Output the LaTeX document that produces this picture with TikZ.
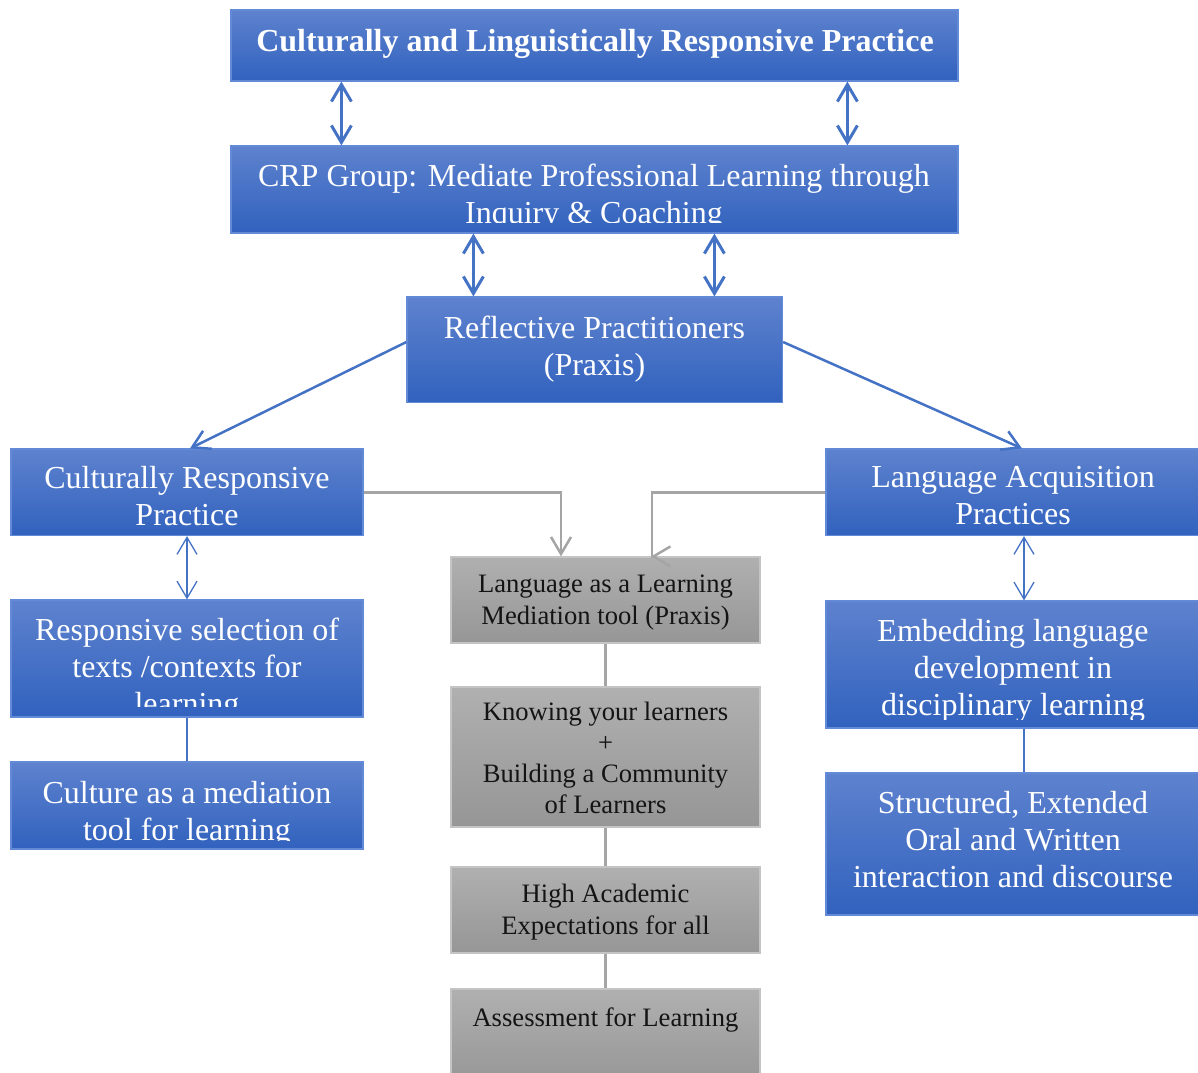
\documentclass[tikz,border=0pt]{standalone}
\usepackage{fontspec}
\setmainfont{Liberation Serif}
\usetikzlibrary{arrows.meta,fit}

\definecolor{blueTop}{RGB}{94,130,206}
\definecolor{blueBot}{RGB}{49,98,190}
\definecolor{blueEdge}{RGB}{98,138,214}
\definecolor{blueLine}{RGB}{68,114,196}
\definecolor{greyTop}{RGB}{176,176,176}
\definecolor{greyBot}{RGB}{150,150,150}
\definecolor{greyEdge}{RGB}{196,196,196}
\definecolor{greyLine}{RGB}{165,165,165}
\definecolor{ink}{RGB}{20,20,20}

\begin{document}
\begin{tikzpicture}[x=1pt,y=-1pt,
  >={Straight Barb[length=17pt,width=20pt]},
  bluebox/.style={rectangle, draw=blueEdge, line width=1.2pt, top color=blueTop, bottom color=blueBot, inner sep=0pt},
  greybox/.style={rectangle, draw=greyEdge, line width=1.2pt, top color=greyTop, bottom color=greyBot, inner sep=0pt},
  bluetext/.style={text=white, align=center, inner sep=0pt, anchor=north, font=\fontsize{32}{37}\selectfont},
  greytext/.style={text=ink, align=center, inner sep=0pt, anchor=north, font=\fontsize{26.6}{32}\selectfont},
  bigarrow/.style={draw=blueLine, line width=3pt, <->},
  diagarrow/.style={draw=blueLine, line width=2.5pt, ->},
  thinarrow/.style={draw=blueLine, line width=1.3pt, <->},
  blueconn/.style={draw=blueLine, line width=2.5pt},
  greyconn/.style={draw=greyLine, line width=2.5pt},
  greyarrow/.style={draw=greyLine, line width=2.5pt, ->},
]
\useasboundingbox (0,0) rectangle (1198,1072);

% ---- boxes ----
\node[bluebox, fit={(231,10) (958,81)}] (top) {};
\node[bluebox, fit={(231,146) (958,233)}] (crp) {};
\node[bluebox, fit={(407,297) (782.5,402.5)}] (refl) {};
\node[bluebox, fit={(11,449) (363,535.5)}] (crpL) {};
\node[bluebox, fit={(826,449) (1200,535.5)}] (lap) {};
\node[bluebox, fit={(11,600) (363,717)}] (rsel) {};
\node[bluebox, fit={(11,762) (363,849)}] (cult) {};
\node[bluebox, fit={(826,601) (1200,728)}] (emb) {};
\node[bluebox, fit={(826,773) (1200,915)}] (struct) {};
\node[greybox, fit={(451,557) (760,643)}] (g1) {};
\node[greybox, fit={(451,687) (760,827)}] (g2) {};
\node[greybox, fit={(451,867) (760,953)}] (g3) {};
\node[greybox, fit={(451,989) (760,1085)}] (g4) {};

% ---- texts ----
\node[bluetext, font=\fontsize{32}{37}\selectfont\bfseries] (toptext) at (595,29.4)
  {Culturally and Linguistically Responsive Practice};
\begin{scope}
  \clip (231,146) rectangle (958,222);
  \node[bluetext] (crptext) at (594,163.4)
    {CRP Group: Mediate Professional Learning through\\Inquiry \& Coaching};
\end{scope}
\node[bluetext] (refltext) at (594.5,316.2) {Reflective Practitioners\\(Praxis)};
\node[bluetext] (crpLtext) at (187,466.3) {Culturally Responsive\\Practice};
\node[bluetext] (laptext) at (1013,466.3) {Language Acquisition\\Practices};
\begin{scope}
  \clip (11,600) rectangle (363,706);
  \node[bluetext] (rseltext) at (187,617.6)
    {Responsive selection of\\texts /contexts for\\learning};
\end{scope}
\begin{scope}
  \clip (11,762) rectangle (363,840.5);
  \node[bluetext] (culttext) at (187,781.3)
    {Culture as a mediation\\tool for learning};
\end{scope}
\begin{scope}
  \clip (826,601) rectangle (1200,719);
  \node[bluetext] (embtext) at (1013,618.6)
    {Embedding language\\development in\\disciplinary learning};
\end{scope}
\node[bluetext] (structtext) at (1013,791.3)
  {Structured, Extended\\Oral and Written\\interaction and discourse};

\node[greytext] (g1text) at (605.5,574.3) {Language as a Learning\\Mediation tool (Praxis)};
\node[greytext, font=\fontsize{26.6}{31}\selectfont] (g2text) at (605.5,702.3)
  {Knowing your learners\\+\\Building a Community\\of Learners};
\node[greytext] (g3text) at (605.5,883.8) {High Academic\\Expectations for all};
\node[greytext] (g4text) at (605.5,1007.3) {Assessment for Learning};

% ---- connectors ----
\draw[bigarrow] ([xshift=111pt]top.south west) -- ([xshift=111pt]crp.north west);
\draw[bigarrow] ([xshift=617pt]top.south west) -- ([xshift=617pt]crp.north west);
\draw[bigarrow] ([xshift=243pt]crp.south west) -- ([xshift=67pt]refl.north west);
\draw[bigarrow] ([xshift=484pt]crp.south west) -- ([xshift=308pt]refl.north west);

\draw[diagarrow] ([yshift=7.75pt]refl.west) -- ([xshift=3pt]crpL.north);
\draw[diagarrow] ([yshift=7.75pt]refl.east) -- ([xshift=9pt]lap.north);

\draw[thinarrow] (crpL.south) -- (rsel.north);
\draw[thinarrow] ([xshift=11pt]lap.south) -- ([xshift=11pt]emb.north);
\draw[blueconn] (rsel.south) -- (cult.north);
\draw[blueconn] ([xshift=11pt]emb.south) -- ([xshift=11pt]struct.north);

\draw[greyarrow] (crpL.east) -| ([xshift=-44.5pt]g1.north);
\draw[greyarrow] (lap.west) -| ([xshift=46.5pt]g1.north) -- ++(-1,0);
\draw[greyconn] (g1.south) -- (g2.north);
\draw[greyconn] (g2.south) -- (g3.north);
\draw[greyconn] (g3.south) -- (g4.north);
\end{tikzpicture}
\end{document}
